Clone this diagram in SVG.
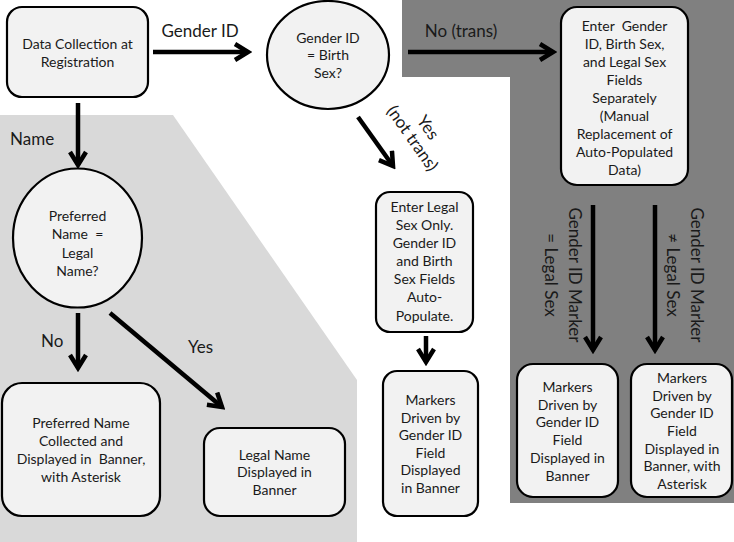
<svg xmlns="http://www.w3.org/2000/svg" width="734" height="542" viewBox="0 0 734 542">
<style>
.node{fill:#f2f2f2;stroke:#000;stroke-width:2.2}
.t{font-family:Lato,"Liberation Sans",sans-serif;font-size:14px;fill:#1a1a1a;text-anchor:middle}
.lbl{font-family:Lato,"Liberation Sans",sans-serif;font-size:17px;fill:#1a1a1a}
.c{stroke:#000;stroke-width:4.5;fill:none;marker-end:url(#ah)}
</style>
<defs>
<marker id="ah" viewBox="0 0 20 20" refX="16" refY="10" markerWidth="20" markerHeight="20" markerUnits="userSpaceOnUse" orient="auto">
<path d="M3,2 L16,10 L3,18" fill="none" stroke="#000" stroke-width="4.5"/>
</marker>
</defs>
<rect width="734" height="542" fill="#fff"/>
<polygon points="0,115 173,115 357,380 357,542 0,542" fill="#d9d9d9"/>
<polygon points="402,0 734,0 734,503 510,503 510,77 402,77" fill="#808080"/>

<g id="connectors">
<line class="c" x1="153" y1="52" x2="248" y2="52"/>
<line class="c" x1="408" y1="52" x2="553" y2="52"/>
<line class="c" x1="78" y1="103" x2="78" y2="165"/>
<line class="c" x1="358" y1="117" x2="393" y2="166"/>
<line class="c" x1="426" y1="336" x2="426" y2="362"/>
<line class="c" x1="593" y1="205" x2="593" y2="350"/>
<line class="c" x1="655" y1="205" x2="655" y2="350"/>
<line class="c" x1="78" y1="313" x2="78" y2="368"/>
<line class="c" x1="110" y1="313" x2="222" y2="407"/>
<text class="lbl" x="200" y="37" text-anchor="middle">Gender ID</text>
<text class="lbl" x="461" y="37" text-anchor="middle">No (trans)</text>
<text class="lbl" x="10" y="145">Name</text>
<text class="lbl" x="41" y="347">No</text>
<text class="lbl" x="188" y="353">Yes</text>
<text class="lbl" text-anchor="middle" transform="translate(420,133) rotate(55)"><tspan x="0" y="-4">Yes</tspan><tspan x="0" y="15">(not trans)</tspan></text>
<text class="lbl" text-anchor="middle" transform="translate(563,275) rotate(90)"><tspan x="0" y="-6">Gender ID Marker</tspan><tspan x="0" y="18">= Legal Sex</tspan></text>
<text class="lbl" text-anchor="middle" transform="translate(685,275) rotate(90)"><tspan x="0" y="-6">Gender ID Marker</tspan><tspan x="0" y="18">≠ Legal Sex</tspan></text>
</g>

<g id="data-collection">
<rect class="node" x="7" y="7" width="141" height="90" rx="15"/>
<text class="t"><tspan x="77.5" y="49">Data Collection at</tspan><tspan x="77.5" y="67">Registration</tspan></text>
</g>

<g id="gender-eq-birth">
<ellipse class="node" cx="328" cy="55" rx="61" ry="54"/>
<text class="t"><tspan x="328" y="43">Gender ID</tspan><tspan x="328" y="60">= Birth</tspan><tspan x="328" y="78">Sex?</tspan></text>
</g>

<g id="enter-all">
<rect class="node" x="561" y="7" width="127" height="178" rx="16"/>
<text class="t"><tspan x="624.5" y="31">Enter&#160; Gender</tspan><tspan x="624.5" y="49">ID, Birth Sex,</tspan><tspan x="624.5" y="67">and Legal Sex</tspan><tspan x="624.5" y="85">Fields</tspan><tspan x="624.5" y="103">Separately</tspan><tspan x="624.5" y="121">(Manual</tspan><tspan x="624.5" y="139">Replacement of</tspan><tspan x="624.5" y="157">Auto-Populated</tspan><tspan x="624.5" y="175">Data)</tspan></text>
</g>

<g id="enter-legal">
<rect class="node" x="376" y="192" width="97" height="140" rx="14"/>
<text class="t"><tspan x="424.5" y="212">Enter Legal</tspan><tspan x="424.5" y="230">Sex Only.</tspan><tspan x="424.5" y="248">Gender ID</tspan><tspan x="424.5" y="266">and Birth</tspan><tspan x="424.5" y="284">Sex Fields</tspan><tspan x="424.5" y="302">Auto-</tspan><tspan x="424.5" y="321">Populate.</tspan></text>
</g>

<g id="markers-mid">
<rect class="node" x="383" y="371" width="95" height="145" rx="14"/>
<text class="t"><tspan x="430.5" y="405">Markers</tspan><tspan x="430.5" y="423">Driven by</tspan><tspan x="430.5" y="440">Gender ID</tspan><tspan x="430.5" y="458">Field</tspan><tspan x="430.5" y="475">Displayed</tspan><tspan x="430.5" y="493">in Banner</tspan></text>
</g>

<g id="markers-eq">
<rect class="node" x="517" y="364" width="101" height="133" rx="16"/>
<text class="t"><tspan x="567.5" y="392">Markers</tspan><tspan x="567.5" y="410">Driven by</tspan><tspan x="567.5" y="427">Gender ID</tspan><tspan x="567.5" y="445">Field</tspan><tspan x="567.5" y="463">Displayed in</tspan><tspan x="567.5" y="481">Banner</tspan></text>
</g>

<g id="markers-neq">
<rect class="node" x="631" y="364" width="101" height="133" rx="16"/>
<text class="t"><tspan x="682" y="383">Markers</tspan><tspan x="682" y="401">Driven by</tspan><tspan x="682" y="418">Gender ID</tspan><tspan x="682" y="436">Field</tspan><tspan x="682" y="454">Displayed in</tspan><tspan x="682" y="471">Banner, with</tspan><tspan x="682" y="489">Asterisk</tspan></text>
</g>

<g id="preferred-eq-legal">
<ellipse class="node" cx="77.5" cy="238" rx="64.5" ry="69.5"/>
<text class="t"><tspan x="77.5" y="221">Preferred</tspan><tspan x="77.5" y="239">Name&#160; =</tspan><tspan x="77.5" y="258">Legal</tspan><tspan x="77.5" y="276">Name?</tspan></text>
</g>

<g id="preferred-name">
<rect class="node" x="2" y="383" width="158" height="133" rx="20"/>
<text class="t"><tspan x="81" y="428">Preferred Name</tspan><tspan x="81" y="446">Collected and</tspan><tspan x="81" y="464">Displayed in&#160; Banner,</tspan><tspan x="81" y="482">with Asterisk</tspan></text>
</g>

<g id="legal-name">
<rect class="node" x="204" y="428" width="141" height="88" rx="16"/>
<text class="t"><tspan x="274.5" y="460">Legal Name</tspan><tspan x="274.5" y="477">Displayed in</tspan><tspan x="274.5" y="495">Banner</tspan></text>
</g>
</svg>
